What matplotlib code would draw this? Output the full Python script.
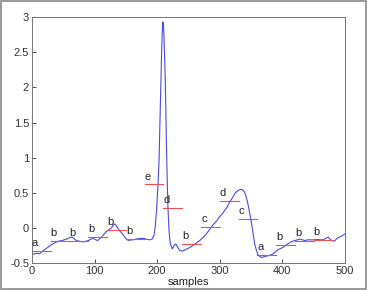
import matplotlib
matplotlib.use("Agg")
import matplotlib.pyplot as plt
from matplotlib.patches import Rectangle

plt.rcParams["font.family"] = ["Liberation Sans", "DejaVu Sans"]

# signal
samples = [0, 4, 8, 12, 16, 20, 25, 31, 37, 42, 48, 55, 60, 63, 67, 71, 76, 82, 86, 90,
           94, 98, 102, 105, 110, 114, 118, 122, 127, 130, 132, 134, 137, 141, 146, 150,
           154, 158, 161, 166, 172, 178, 183, 188, 192, 195, 197, 199, 201, 203, 205, 207,
           208, 209, 210, 211, 213, 215, 217, 219, 221, 224, 226, 228, 230, 233, 236, 239,
           243, 247, 252, 257, 262, 268, 273, 279, 284, 289, 295, 300, 304, 308, 312, 316,
           321, 325, 329, 332, 335, 338, 340, 343, 345, 348, 351, 354, 356, 359, 361, 364,
           367, 371, 375, 380, 385, 389, 393, 398, 404, 408, 412, 416, 420, 424, 428, 432,
           436, 440, 444, 450, 455, 460, 465, 469, 473, 476, 479, 482, 484, 487, 489, 494, 500]
signal = [-0.38, -0.37, -0.36, -0.37, -0.34, -0.31, -0.28, -0.24, -0.21, -0.19, -0.18, -0.16,
          -0.14, -0.13, -0.15, -0.18, -0.19, -0.20, -0.19, -0.18, -0.16, -0.15, -0.17, -0.18,
          -0.14, -0.10, -0.06, -0.03, 0.00, 0.04, 0.057, 0.04, 0.00, -0.05, -0.10, -0.15,
          -0.18, -0.17, -0.17, -0.16, -0.15, -0.15, -0.16, -0.17, -0.16, -0.10, 0.02, 0.24,
          0.55, 0.95, 1.7, 2.45, 2.75, 2.93, 2.9, 2.7, 2.1, 1.1, 0.35, -0.05, -0.22, -0.30,
          -0.27, -0.24, -0.23, -0.28, -0.32, -0.33, -0.32, -0.30, -0.28, -0.25, -0.22, -0.18,
          -0.14, -0.08, -0.02, 0.04, 0.10, 0.16, 0.20, 0.25, 0.30, 0.37, 0.44, 0.50, 0.53,
          0.545, 0.55, 0.53, 0.50, 0.42, 0.34, 0.20, 0.05, -0.12, -0.24, -0.33, -0.38, -0.41,
          -0.42, -0.41, -0.40, -0.39, -0.37, -0.34, -0.31, -0.29, -0.26, -0.23, -0.21, -0.19,
          -0.18, -0.17, -0.16, -0.17, -0.18, -0.17, -0.17, -0.17, -0.165, -0.17, -0.17,
          -0.15, -0.13, -0.16, -0.18, -0.19, -0.18, -0.15, -0.14, -0.12, -0.085]

# segment means and their symbols
seg_width = 30
seg_values = [-0.333, -0.18, -0.18, -0.13, -0.03, -0.16, 0.62, 0.29,
              -0.23, 0.014, 0.385, 0.13, -0.38, -0.24, -0.18, -0.167]
seg_labels = ["a", "b", "b", "b", "b", "b", "e", "d",
              "b", "c", "d", "c", "a", "b", "b", "b"]

xticks = [0, 100, 200, 300, 400, 500]
yticks = [-0.5, 0, 0.5, 1, 1.5, 2, 2.5, 3]
ytick_labels = ["-0.5", "0", "0.5", "1", "1.5", "2", "2.5", "3"]

fig = plt.figure(figsize=(3.67, 2.9), dpi=100)
fig.patches.append(Rectangle((0.002, 0.002), 0.994, 0.994, transform=fig.transFigure,
                             fill=False, edgecolor="#888888", linewidth=1.2))
ax = fig.add_axes([0.087, 0.093, 0.853, 0.848])

ax.plot(samples, signal, color="#4a4ae6", linewidth=0.8)
for i, (v, lab) in enumerate(zip(seg_values, seg_labels)):
    x0 = i * seg_width
    ax.plot([x0, x0 + seg_width], [v, v], color="#ee5050", linewidth=0.8)
    ax.text(x0 + 5, v + 0.04, lab, fontsize=8, ha="center", va="bottom", color="#222222")

ax.set_xlim(0, 500)
ax.set_ylim(-0.5, 3)
ax.set_xticks(xticks)
ax.set_yticks(yticks)
ax.set_yticklabels(ytick_labels)
ax.tick_params(direction="in", length=3, width=0.6, labelsize=8, colors="#333333",
               top=False, right=False, pad=2)
for s in ax.spines.values():
    s.set_color("#777777")
    s.set_linewidth(0.7)
ax.set_xlabel("samples", fontsize=8, labelpad=1, color="#222222")

fig.savefig("out.png", dpi=100)
